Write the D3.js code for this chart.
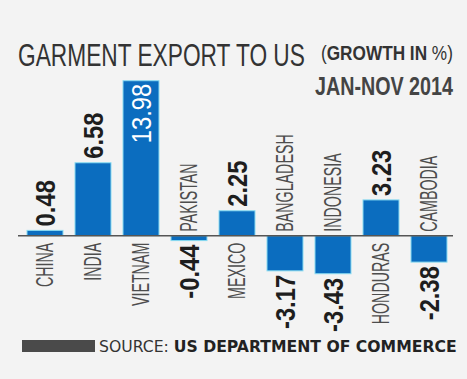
<!DOCTYPE html>
<html><head><meta charset="utf-8">
<script src="https://cdn.jsdelivr.net/npm/d3@7"></script>
<style>
html,body{margin:0;padding:0;background:#f3f3f3;}
svg{display:block;}
</style></head>
<body>
<svg id="c" width="467" height="379"></svg>
<script>
const countries = ["CHINA","INDIA","VIETNAM","PAKISTAN","MEXICO","BANGLADESH","INDONESIA","HONDURAS","CAMBODIA"];
const growth = [0.48, 6.58, 13.98, -0.44, 2.25, -3.17, -3.43, 3.23, -2.38];
const valueLabels = ["0.48","6.58","13.98","-0.44","2.25","-3.17","-3.43","3.23","-2.38"];
const titleMain = "GARMENT EXPORT TO US";
const period = "JAN-NOV 2014";
const sourceLabel = "SOURCE: ";
const sourceName = "US DEPARTMENT OF COMMERCE";

const svg = d3.select("#c");
svg.append("rect").attr("width",467).attr("height",379).attr("fill","#f3f3f3");

const x = d3.scaleBand().domain(countries).range([21,453]).paddingInner(0.25).paddingOuter(0.125);
const y = d3.scaleLinear().domain([-4,14]).range([280.06,80.5]);
const y0 = y(0);

// fit a text horizontally to a target width by scaling
function fit(sel, x0, yb, w){
  const bw = sel.node().getComputedTextLength();
  sel.attr("transform",`translate(${x0},${yb}) scale(${w/bw},1)`);
}

// Title
const t1 = svg.append("text").attr("font-family","Liberation Sans, Arial, sans-serif")
  .attr("font-size",31.5).attr("fill","#333").text(titleMain);
fit(t1,18,66,287);
const sub = svg.append("text").attr("font-family","Liberation Sans, Arial, sans-serif")
  .attr("font-size",21).attr("fill","#333");
sub.append("tspan").text("(");
sub.append("tspan").attr("font-weight","bold").text("GROWTH IN ");
sub.append("tspan").text("%)");
fit(sub,321,60,132);
const t3 = svg.append("text").attr("font-family","Liberation Sans, Arial, sans-serif")
  .attr("font-size",26).attr("font-weight","bold").attr("fill","#444").text(period);
fit(t3,315,95,138);

const data = countries.map((c,i)=>({c, v:growth[i], l:valueLabels[i]}));

// Bars
svg.selectAll("rect.bar").data(data).join("rect").attr("class","bar")
  .attr("x",d=>x(d.c)).attr("width",x.bandwidth())
  .attr("y",d=>Math.min(y(d.v),y0)).attr("height",d=>Math.abs(y(d.v)-y0))
  .attr("fill","#0b6dbf").attr("stroke","#8adcf2").attr("stroke-width",1);

// Axis line
svg.append("line").attr("x1",18).attr("x2",453).attr("y1",y0).attr("y2",y0)
  .attr("stroke","#555").attr("stroke-width",1.5);

// Country labels
svg.selectAll("text.name").data(data).join("text").attr("class","name")
  .attr("transform",d=>{
    const cx = x(d.c)+x.bandwidth()/2;
    const yy = d.v>=0 ? y0+7 : y0-4;
    return `translate(${cx},${yy}) rotate(-90) scale(0.62,1)`;
  })
  .attr("text-anchor",d=>d.v>=0?"end":"start")
  .attr("dominant-baseline","central")
  .attr("font-family","Liberation Sans, Arial, sans-serif").attr("font-size",23)
  .attr("fill","#4d4d4d").text(d=>d.c);

// Value labels
svg.selectAll("text.val").data(data).join("text").attr("class","val")
  .attr("transform",d=>{
    const cx = x(d.c)+x.bandwidth()/2;
    let yy;
    if (d.v>=10) yy = y(d.v)+3;
    else if (d.v>=0) yy = y(d.v)-4;
    else yy = y(d.v)+4;
    return `translate(${cx},${yy}) rotate(-90) scale(0.88,1)`;
  })
  .attr("text-anchor",d=>(d.v>=10)?"end":(d.v>=0?"start":"end"))
  .attr("dominant-baseline","central")
  .attr("font-family","Liberation Sans, Arial, sans-serif").attr("font-size",27)
  .attr("font-weight",d=>d.v>=10?"normal":"bold")
  .attr("fill",d=>d.v>=10?"#ffffff":"#1e1e1e").text(d=>d.l);

// Source
svg.append("rect").attr("x",22).attr("y",340).attr("width",73).attr("height",12).attr("fill","#4a4a4a");
const src = svg.append("text").attr("font-family","DejaVu Sans, Verdana, sans-serif")
  .attr("font-size",15).attr("fill","#222");
src.append("tspan").attr("fill","#333").text(sourceLabel);
src.append("tspan").attr("font-weight","bold").text(sourceName);
fit(src,99,352,358);
</script>
</body></html>
